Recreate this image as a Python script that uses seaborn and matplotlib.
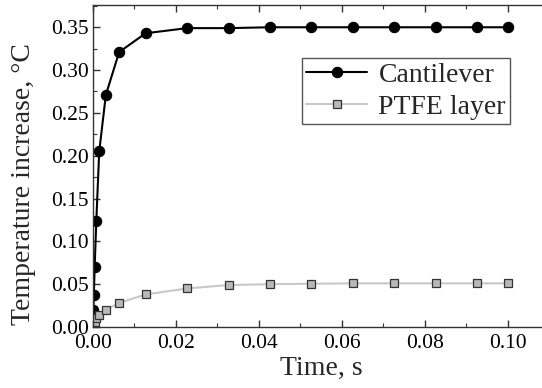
import matplotlib
matplotlib.use("Agg")
import matplotlib.pyplot as plt
from matplotlib.ticker import MultipleLocator, FormatStrFormatter
import seaborn as sns
import pandas as pd

# Time samples (s) and temperature rise (°C) for the two regions
time_s = [0.0, 0.0001, 0.0002, 0.0004, 0.0008, 0.0015, 0.0031, 0.0063, 0.0127,
          0.0227, 0.0327, 0.0427, 0.0527, 0.0627, 0.0727, 0.0827, 0.0927, 0.1]
cantilever = [0.0, 0.020, 0.037, 0.070, 0.124, 0.205, 0.271, 0.321, 0.343,
              0.349, 0.349, 0.350, 0.350, 0.350, 0.350, 0.350, 0.350, 0.350]
ptfe_layer = [0.0, 0.001, 0.003, 0.006, 0.010, 0.014, 0.020, 0.028, 0.038,
              0.045, 0.049, 0.050, 0.0505, 0.051, 0.051, 0.051, 0.051, 0.051]

series_names = ["Cantilever", "PTFE layer"]
x_label = "Time, s"
y_label = "Temperature increase, °C"

sns.set_theme(style="ticks")
plt.rcParams["font.family"] = ["Liberation Serif", "DejaVu Serif"]

df_c = pd.DataFrame({"t": time_s, "T": cantilever})
df_p = pd.DataFrame({"t": time_s, "T": ptfe_layer})

fig = plt.figure(figsize=(5.42, 3.88), dpi=100)
ax = fig.add_axes([93 / 542, 1 - 327 / 388, (549 - 93) / 542, (327 - 5) / 388])

sns.lineplot(data=df_c, x="t", y="T", ax=ax, color="black", linewidth=1.5,
             marker="o", markersize=7.5, markerfacecolor="black",
             markeredgecolor="black", label=series_names[0], sort=False,
             errorbar=None)
sns.lineplot(data=df_p, x="t", y="T", ax=ax, color="#c8c8c8", linewidth=1.5,
             marker="s", markersize=5.5, markerfacecolor="#b8b8b8",
             markeredgecolor="#333333", markeredgewidth=0.9,
             label=series_names[1], sort=False, errorbar=None)

ax.set_xlim(0, 0.11)
ax.set_ylim(0, 0.376)
ax.xaxis.set_major_locator(MultipleLocator(0.02))
ax.xaxis.set_minor_locator(MultipleLocator(0.01))
ax.yaxis.set_major_locator(MultipleLocator(0.05))
ax.yaxis.set_minor_locator(MultipleLocator(0.025))
ax.xaxis.set_major_formatter(FormatStrFormatter("%.2f"))
ax.yaxis.set_major_formatter(FormatStrFormatter("%.2f"))

ax.tick_params(which="both", direction="in", top=True, right=True,
               labelsize=15.5, colors="#333333", labelcolor="black")
ax.tick_params(which="major", length=5, width=1)
ax.tick_params(which="minor", length=3, width=0.8)
ax.tick_params(axis="x", which="major", pad=5)
ax.tick_params(axis="y", which="major", pad=3)
for sp in ax.spines.values():
    sp.set_color("#333333")
    sp.set_linewidth(1.0)

ax.set_xlabel(x_label, fontsize=20, labelpad=2)
ax.set_ylabel(y_label, fontsize=20)
ax.yaxis.set_label_coords(-0.125, 0.444)

leg = ax.legend(loc="upper left", bbox_to_anchor=((302 - 93) / 456, (327 - 58) / 322),
                fontsize=20, frameon=True, fancybox=False, framealpha=1,
                edgecolor="#555555", handlelength=2.2, handletextpad=0.4,
                borderpad=0.15, labelspacing=0.25, borderaxespad=0)
leg.get_frame().set_linewidth(1.0)

fig.savefig("out.png", dpi=100)
